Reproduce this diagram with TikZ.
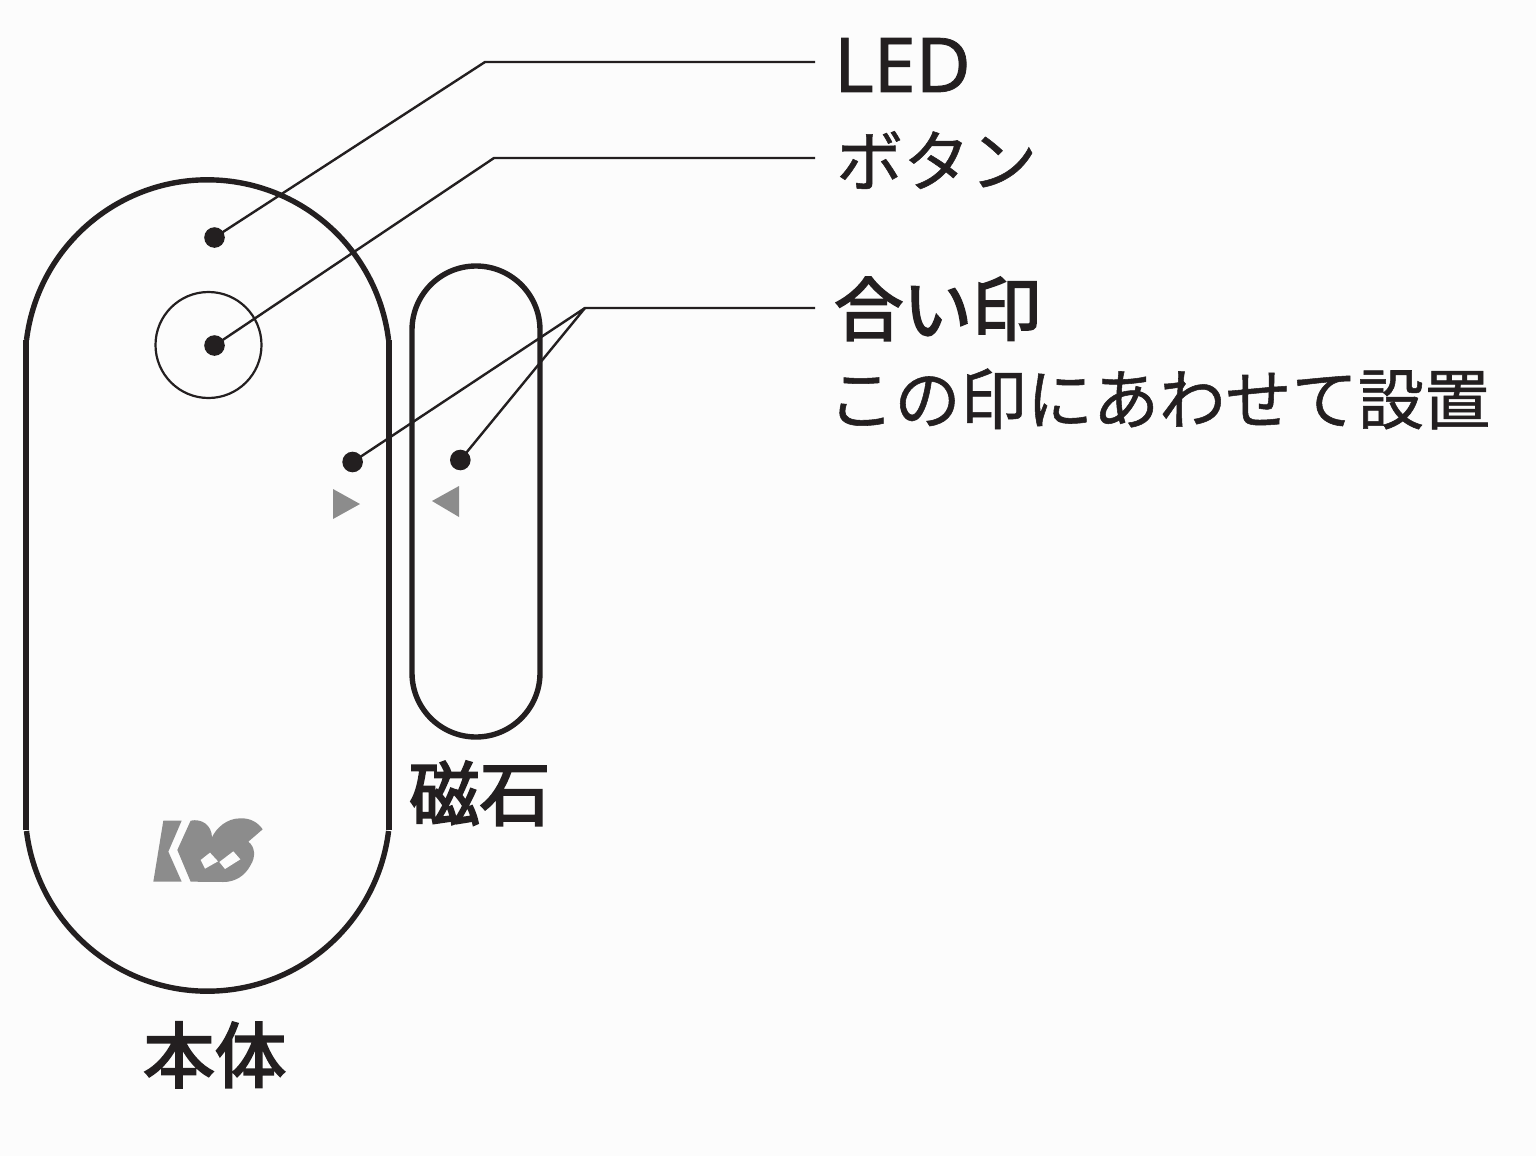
\documentclass[tikz,border=0pt]{standalone}
\usepackage{fontspec}
\setmainfont{Noto Sans}[RawFeature={embolden=1.0}]
\newfontfamily\cjk{Noto Sans CJK JP}[RawFeature={embolden=0.8}]
\newfontfamily\cjkmed{Noto Sans CJK JP}[RawFeature={embolden=3.0}]
\definecolor{ink}{HTML}{231F20}
\definecolor{greymark}{HTML}{8C8C8C}
\definecolor{paper}{HTML}{FCFCFC}
\tikzset{
  shell/.style={draw=ink,line width=5.4pt},
  leader/.style={draw=ink,line width=2.4pt,line join=miter},
  dotmark/.style={circle,fill=ink,minimum size=20.6pt,inner sep=0pt,draw=none},
  lbl/.style={anchor=base west,inner sep=0pt,text=ink},
  tri/.style={fill=greymark,draw=none}
}
\begin{document}
\begin{tikzpicture}[x=1pt,y=-1pt]
\useasboundingbox[fill=paper] (0,0) rectangle (1536,1156);
% body
\draw[shell] (26,340) -- (26,830);
\draw[shell] (389,340) -- (389,830);
\draw[shell] (26.5,340) arc[start angle=173,end angle=7,x radius=182.4,y radius=-182.4];
\draw[shell] (26.5,831) arc[start angle=187,end angle=353,x radius=182.4,y radius=-182.4];
% magnet
\draw[shell] (412,330) arc[start angle=180,end angle=0,x radius=64,y radius=-64]
  -- (540,673) arc[start angle=360,end angle=180,x radius=64,y radius=-64] -- cycle;
% button ring
\node[circle,draw=ink,line width=2.2pt,minimum size=106pt,inner sep=0pt] (ring) at (208.5,345) {};
% marks
\fill[tri] (333,489) -- (333,519) -- (360,504) -- cycle;
\fill[tri] (459,486) -- (459,517) -- (432,501) -- cycle;
% dots
\node[dotmark] (dled) at (214.5,237.5) {};
\node[dotmark] (dbtn) at (214.5,345.5) {};
\node[dotmark] (dbody) at (352.6,462) {};
\node[dotmark] (dmag) at (460.3,460) {};
% leader coordinates
\coordinate (bled) at (485,62);
\coordinate (eled) at (815,62);
\coordinate (bbtn) at (494,158);
\coordinate (ebtn) at (815,158);
\coordinate (bal) at (585,308);
\coordinate (eal) at (815,308);
\draw[leader] (dled.center) -- (bled) -- (eled);
\draw[leader] (dbtn.center) -- (bbtn) -- (ebtn);
\draw[leader] (dbody.center) -- (bal) -- (eal);
\draw[leader] (dmag.center) -- (bal);
% labels
\node[lbl,font=\fontsize{75.5}{76}\selectfont] (tled) at (834,92) {LED};
\node[lbl,font=\cjk\fontsize{67}{67}\selectfont] (tbtn) at (836,186) {ボタン};
\node[lbl,font=\cjkmed\fontsize{69}{69}\selectfont] (tal) at (834,335) {合い印};
\node[lbl,font=\cjk\fontsize{66.2}{66}\selectfont] (tnote) at (828,424) {この印にあわせて設置};
\node[lbl,font=\cjkmed\fontsize{70.5}{70}\selectfont] (tmag) at (409,820) {磁石};
\node[lbl,font=\cjkmed\fontsize{71.5}{71}\selectfont] (tbody) at (143,1082) {本体};
% logo
\begin{scope}[shift={(130,800)},scale=1/3]
\fill[greymark] (100,62) -- (155,62) -- (115,155) -- (155,245) -- (70,245) -- cycle;
\fill[greymark] (182,62) .. controls (215,55) and (245,75) .. (246,112)
  .. controls (258,85) and (290,55) .. (330,55)
  .. controls (360,53) and (385,68) .. (398,88) -- (355,125)
  .. controls (375,140) and (378,170) .. (362,195)
  .. controls (345,228) and (315,246) .. (280,246) -- (182,245) -- (142,150) -- cycle;
\fill[paper] (212,180) -- (240,158) -- (264,184) -- (225,206) -- cycle;
\fill[paper] (268,186) -- (310,154) -- (331,178) -- (285,207) -- cycle;
\end{scope}
\end{tikzpicture}
\end{document}
